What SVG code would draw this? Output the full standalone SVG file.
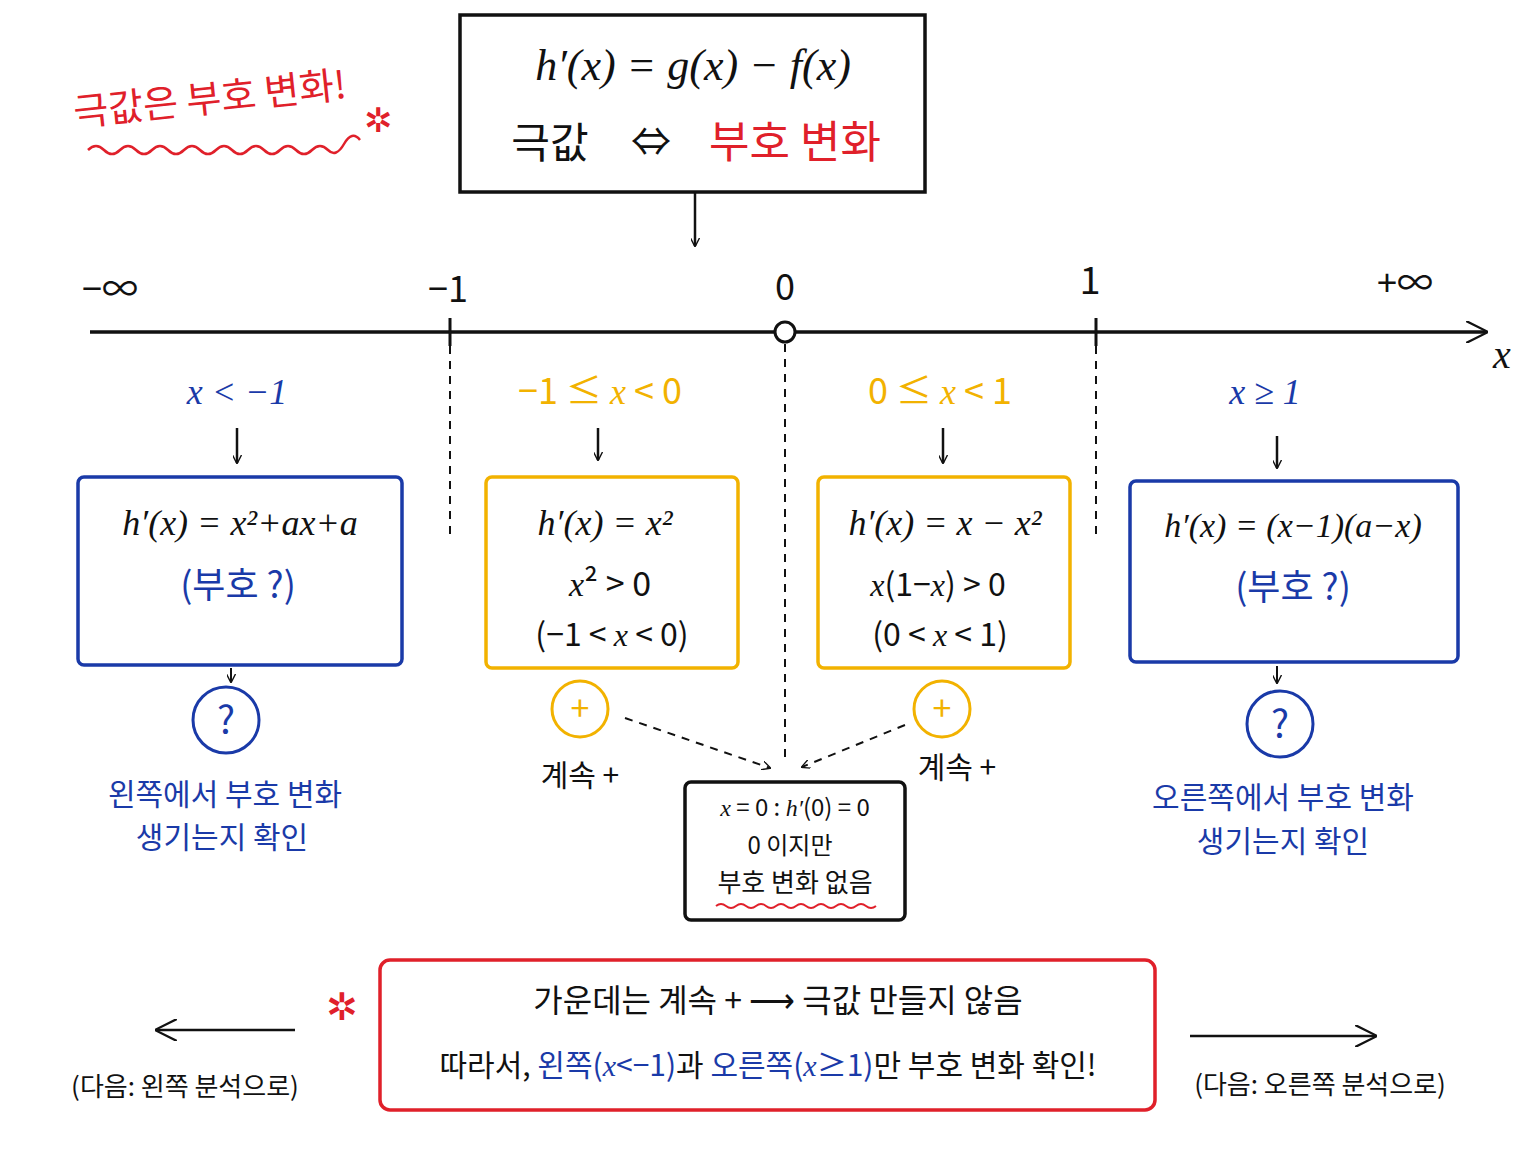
<svg xmlns="http://www.w3.org/2000/svg" width="1536" height="1152" viewBox="0 0 1536 1152">
<style>
text{font-family:"Noto Sans CJK KR","Liberation Sans",sans-serif;text-anchor:middle}
.m{font-family:"Liberation Serif","Noto Sans CJK KR",serif;font-style:italic}
.k{fill:#111}.b{fill:#1a3aa8}.y{fill:#f2b200}.r{fill:#e0202a}
.box{fill:#fff;stroke-width:3.5}
.ln{stroke:#111;stroke-width:2.5;fill:none}
.dash{stroke:#111;stroke-width:2;stroke-dasharray:8 7;fill:none}
</style>
<defs>
<marker id="ah" viewBox="0 0 10 10" refX="9" refY="5" markerWidth="9" markerHeight="9" orient="auto-start-reverse" markerUnits="userSpaceOnUse"><path d="M0,0 L10,5 L0,10" fill="none" stroke="#111" stroke-width="1.5"/></marker>
<marker id="ahb" viewBox="0 0 10 10" refX="9" refY="5" markerWidth="22" markerHeight="22" orient="auto" markerUnits="userSpaceOnUse"><path d="M0,0 L10,5 L0,10" fill="none" stroke="#111" stroke-width="1"/></marker>
</defs>
<rect width="1536" height="1152" fill="#fff"/>

<g id="title-note">
<text x="210" y="112" font-size="38" class="r" transform="rotate(-6 210 100)">극값은 부호 변화!</text>
<path d="M88,150 q8,-8 16,0 t16,0 t16,0 t16,0 t16,0 t16,0 t16,0 t16,0 t16,0 t16,0 t16,0 t16,0 t16,0 t16,0 t16,0 t16,-6 t16,-4" stroke="#e0202a" stroke-width="2.5" fill="none"/>
<text x="378" y="132" font-size="34" class="r">✲</text>
</g>

<g id="top-box">
<rect x="460" y="15" width="465" height="177" class="box" stroke="#111"/>
<text x="693" y="80" font-size="44" class="m k">h′(x) = g(x) − f(x)</text>
<text x="550" y="158" font-size="42" class="k">극값</text>
<text x="651" y="156" font-size="40" class="k">⇔</text>
<text x="795" y="158" font-size="44" class="r">부호 변화</text>
</g>

<g id="axis">
<line x1="90" y1="332" x2="1486" y2="332" stroke="#111" stroke-width="3.5" marker-end="url(#ahb)"/>
<line x1="450" y1="318" x2="450" y2="346" stroke="#111" stroke-width="3"/>
<line x1="1096" y1="318" x2="1096" y2="346" stroke="#111" stroke-width="3"/>
<circle cx="785" cy="332" r="10" fill="#fff" stroke="#111" stroke-width="3"/>
<text x="110" y="302" font-size="36" class="k">−∞</text>
<text x="448" y="302" font-size="36" class="k">−1</text>
<text x="785" y="300" font-size="36" class="k">0</text>
<text x="1090" y="294" font-size="38" class="k">1</text>
<text x="1405" y="296" font-size="36" class="k">+∞</text>
<text x="1502" y="368" font-size="40" class="m k">x</text>
</g>

<g id="connectors">
<line x1="695" y1="192" x2="695" y2="246" class="ln" marker-end="url(#ah)"/>
<line x1="450" y1="346" x2="450" y2="535" class="dash"/>
<line x1="785" y1="344" x2="785" y2="760" class="dash"/>
<line x1="1096" y1="346" x2="1096" y2="535" class="dash"/>
<line x1="237" y1="428" x2="237" y2="463" class="ln" marker-end="url(#ah)"/>
<line x1="598" y1="428" x2="598" y2="460" class="ln" marker-end="url(#ah)"/>
<line x1="943" y1="428" x2="943" y2="463" class="ln" marker-end="url(#ah)"/>
<line x1="1277" y1="436" x2="1277" y2="468" class="ln" marker-end="url(#ah)"/>
<line x1="231" y1="668" x2="231" y2="682" stroke="#111" stroke-width="2" marker-end="url(#ah)"/>
<line x1="1277" y1="666" x2="1277" y2="683" stroke="#111" stroke-width="2" marker-end="url(#ah)"/>
<line x1="625" y1="718" x2="770" y2="768" class="dash" marker-end="url(#ah)"/>
<line x1="905" y1="725" x2="802" y2="767" class="dash" marker-end="url(#ah)"/>
<line x1="295" y1="1030" x2="157" y2="1030" stroke="#111" stroke-width="2.5" marker-end="url(#ahb)"/>
<line x1="1190" y1="1036" x2="1375" y2="1036" stroke="#111" stroke-width="2.5" marker-end="url(#ahb)"/>
</g>

<g id="int1">
<text x="237" y="404" font-size="36" class="m b">x &lt; −1</text>
<rect x="78" y="477" width="324" height="188" rx="6" class="box" stroke="#1a3aa8"/>
<text x="240" y="535" font-size="36" class="m k">h′(x) = x²+ax+a</text>
<text x="238" y="598" font-size="36" class="b">(부호 ?)</text>
<circle cx="226" cy="720" r="33" fill="none" stroke="#1a3aa8" stroke-width="3"/>
<text x="226" y="734" font-size="38" class="b">?</text>
<text x="225" y="805" font-size="30" class="b">왼쪽에서 부호 변화</text>
<text x="222" y="848" font-size="30" class="b">생기는지 확인</text>
</g>

<g id="int2">
<text x="600" y="404" font-size="36" class="y">−1 ≤ <tspan class="m">x</tspan> &lt; 0</text>
<rect x="486" y="477" width="252" height="191" rx="6" class="box" stroke="#f2b200"/>
<text x="605" y="535" font-size="36" class="m k">h′(x) = x²</text>
<text x="610" y="596" font-size="34" class="k"><tspan class="m">x</tspan>² &gt; 0</text>
<text x="612" y="646" font-size="32" class="k">(−1 &lt; <tspan class="m">x</tspan> &lt; 0)</text>
<circle cx="580" cy="709" r="28" fill="none" stroke="#f2b200" stroke-width="3"/>
<text x="580" y="721" font-size="34" class="y">+</text>
<text x="580" y="786" font-size="30" class="k">계속 +</text>
</g>

<g id="int3">
<text x="940" y="404" font-size="36" class="y">0 ≤ <tspan class="m">x</tspan> &lt; 1</text>
<rect x="818" y="477" width="252" height="191" rx="6" class="box" stroke="#f2b200"/>
<text x="945" y="535" font-size="36" class="m k">h′(x) = x − x²</text>
<text x="938" y="596" font-size="32" class="k"><tspan class="m">x</tspan>(1−<tspan class="m">x</tspan>) &gt; 0</text>
<text x="940" y="646" font-size="32" class="k">(0 &lt; <tspan class="m">x</tspan> &lt; 1)</text>
<circle cx="942" cy="709" r="28" fill="none" stroke="#f2b200" stroke-width="3"/>
<text x="942" y="721" font-size="34" class="y">+</text>
<text x="957" y="778" font-size="30" class="k">계속 +</text>
</g>

<g id="int4">
<text x="1265" y="404" font-size="36" class="m b">x ≥ 1</text>
<rect x="1130" y="481" width="328" height="181" rx="6" class="box" stroke="#1a3aa8"/>
<text x="1293" y="537" font-size="34" class="m k">h′(x) = (x−1)(a−x)</text>
<text x="1293" y="600" font-size="36" class="b">(부호 ?)</text>
<circle cx="1280" cy="724" r="33" fill="none" stroke="#1a3aa8" stroke-width="3"/>
<text x="1280" y="738" font-size="38" class="b">?</text>
<text x="1283" y="808" font-size="30" class="b">오른쪽에서 부호 변화</text>
<text x="1283" y="852" font-size="30" class="b">생기는지 확인</text>
</g>

<g id="center-box">
<rect x="685" y="782" width="220" height="138" rx="6" class="box" stroke="#111"/>
<text x="795" y="816" font-size="24" class="k"><tspan class="m">x</tspan> = 0 :  <tspan class="m">h′</tspan>(0) = 0</text>
<text x="790" y="854" font-size="24" class="k">0 이지만</text>
<text x="795" y="892" font-size="26" class="k">부호 변화 없음</text>
<path d="M716,906 q5,-4 10,0 t10,0 t10,0 t10,0 t10,0 t10,0 t10,0 t10,0 t10,0 t10,0 t10,0 t10,0 t10,0 t10,0 t10,0 t10,0" stroke="#e0202a" stroke-width="2" fill="none"/>
</g>

<g id="summary">
<text x="342" y="1020" font-size="38" class="r">✲</text>
<rect x="380" y="960" width="775" height="150" rx="10" class="box" stroke="#e0202a"/>
<text x="778" y="1012" font-size="32" class="k">가운데는 계속 + ⟶ 극값 만들지 않음</text>
<text x="768" y="1076" font-size="30" class="k">따라서, <tspan class="b">왼쪽(<tspan class="m">x</tspan>&lt;−1)</tspan>과 <tspan class="b">오른쪽(<tspan class="m">x</tspan>≥1)</tspan>만 부호 변화 확인!</text>
<text x="185" y="1096" font-size="26" class="k">(다음: 왼쪽 분석으로)</text>
<text x="1320" y="1094" font-size="26" class="k">(다음: 오른쪽 분석으로)</text>
</g>
</svg>
